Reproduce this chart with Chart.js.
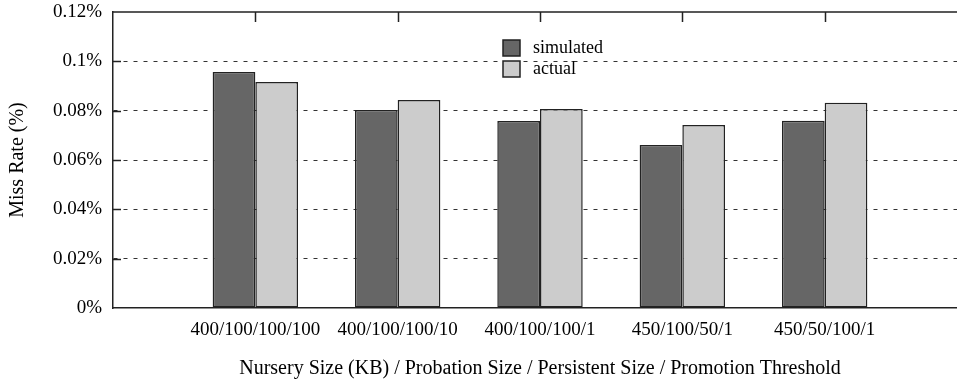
<!DOCTYPE html>
<html>
<head>
<meta charset="utf-8">
<script src="https://cdn.jsdelivr.net/npm/chart.js@4.4.1/dist/chart.umd.min.js"></script>
<style>
  html, body { margin: 0; padding: 0; background: #fff; overflow: hidden; }
  #wrap { width: 957px; height: 381px; overflow: hidden; }
</style>
</head>
<body>
<div id="wrap"><canvas id="missChart" width="990" height="381"></canvas></div>
<script>
// configurations: nursery / probation / persistent / promotion threshold
// (blank slots at both ends leave the empty margins of the plot)
const configs = ['', '400/100/100/100', '400/100/100/10', '400/100/100/1', '450/100/50/1', '450/50/100/1', ''];
// miss rate in percent
const simulated = [null, 0.0957, 0.0803, 0.0758, 0.0661, 0.0759, null];
const actual = [null, 0.0916, 0.0843, 0.0807, 0.0742, 0.0832, null];
const yMax = 0.12;
const yStep = 0.02;
const xTitle = 'Nursery Size (KB) / Probation Size / Persistent Size / Promotion Threshold';
const yTitle = 'Miss Rate (%)';

const FONT = 'Liberation Serif';
const INK = '#222';

const fmtPct = v => Number(v.toFixed(4)) + '%';

// top border, inward tick marks and the legend box
const framePlugin = {
  id: 'frame',
  afterDatasetsDraw(chart) {
    const { ctx, chartArea: a, scales } = chart;
    ctx.save();
    ctx.strokeStyle = INK;
    ctx.lineWidth = 1.5;
    ctx.beginPath();
    ctx.moveTo(a.left, a.top);
    ctx.lineTo(a.right, a.top);
    // category ticks hanging from the top border
    for (let i = 1; i < configs.length - 1; i++) {
      const x = Math.round(scales.x.getPixelForValue(i)) + 0.5;
      ctx.moveTo(x, a.top);
      ctx.lineTo(x, a.top + 10);
    }
    // y ticks pointing into the plot
    for (let v = yStep; v < yMax - 1e-9; v += yStep) {
      const y = Math.round(scales.y.getPixelForValue(v)) + 0.5;
      ctx.moveTo(a.left, y);
      ctx.lineTo(a.left + 8, y);
    }
    ctx.stroke();

    // legend
    ctx.font = '18px "' + FONT + '"';
    ctx.textBaseline = 'middle';
    chart.data.datasets.forEach((ds, i) => {
      const bx = a.left + 390, by = a.top + 28 + i * 21;
      ctx.fillStyle = ds.backgroundColor;
      ctx.fillRect(bx, by, 17, 16);
      ctx.strokeStyle = INK;
      ctx.lineWidth = 1.5;
      ctx.strokeRect(bx, by, 17, 16);
      ctx.fillStyle = '#000';
      ctx.fillText(ds.label, bx + 30, by + 8);
    });
    ctx.restore();
  }
};

new Chart(document.getElementById('missChart'), {
  type: 'bar',
  data: {
    labels: configs,
    datasets: [
      { label: 'simulated', data: simulated, backgroundColor: '#666666' },
      { label: 'actual', data: actual, backgroundColor: '#cccccc' }
    ]
  },
  options: {
    responsive: false,
    animation: false,
    events: [],
    layout: { padding: { top: 12, right: 23, left: 0, bottom: 0 } },
    datasets: {
      bar: {
        borderColor: INK,
        borderWidth: 1.5,
        borderSkipped: false,
        categoryPercentage: 0.6,
        barPercentage: 1.0
      }
    },
    plugins: {
      legend: { display: false },
      tooltip: { enabled: false }
    },
    scales: {
      x: {
        offset: false,
        grid: { display: false },
        border: { display: true, color: INK, width: 1.5 },
        ticks: {
          autoSkip: false,
          maxRotation: 0,
          padding: 3,
          color: '#000',
          font: { family: FONT, size: 19 }
        },
        title: {
          display: true,
          text: xTitle,
          color: '#000',
          font: { family: FONT, size: 20 },
          padding: { top: 0, bottom: 0 }
        },
        afterFit: s => { s.height = 73; s.paddingLeft = 0; s.paddingRight = 0; }
      },
      y: {
        min: 0,
        max: yMax,
        border: { display: true, color: INK, width: 1.5, dash: [4, 6] },
        grid: {
          drawTicks: false,
          color: ctx => (ctx.tick && ctx.tick.value > 0 && ctx.tick.value < yMax - 1e-9) ? '#333' : 'rgba(0,0,0,0)',
          lineWidth: 1
        },
        ticks: {
          stepSize: yStep,
          padding: 11,
          color: '#000',
          font: { family: FONT, size: 19 },
          callback: v => fmtPct(v)
        },
        title: {
          display: true,
          text: yTitle,
          color: '#000',
          font: { family: FONT, size: 20 },
          padding: { top: 6, bottom: 0 }
        },
        afterFit: s => { s.width = 113; s.paddingTop = 0; s.paddingBottom = 0; }
      }
    }
  },
  plugins: [framePlugin]
});
</script>
</body>
</html>
